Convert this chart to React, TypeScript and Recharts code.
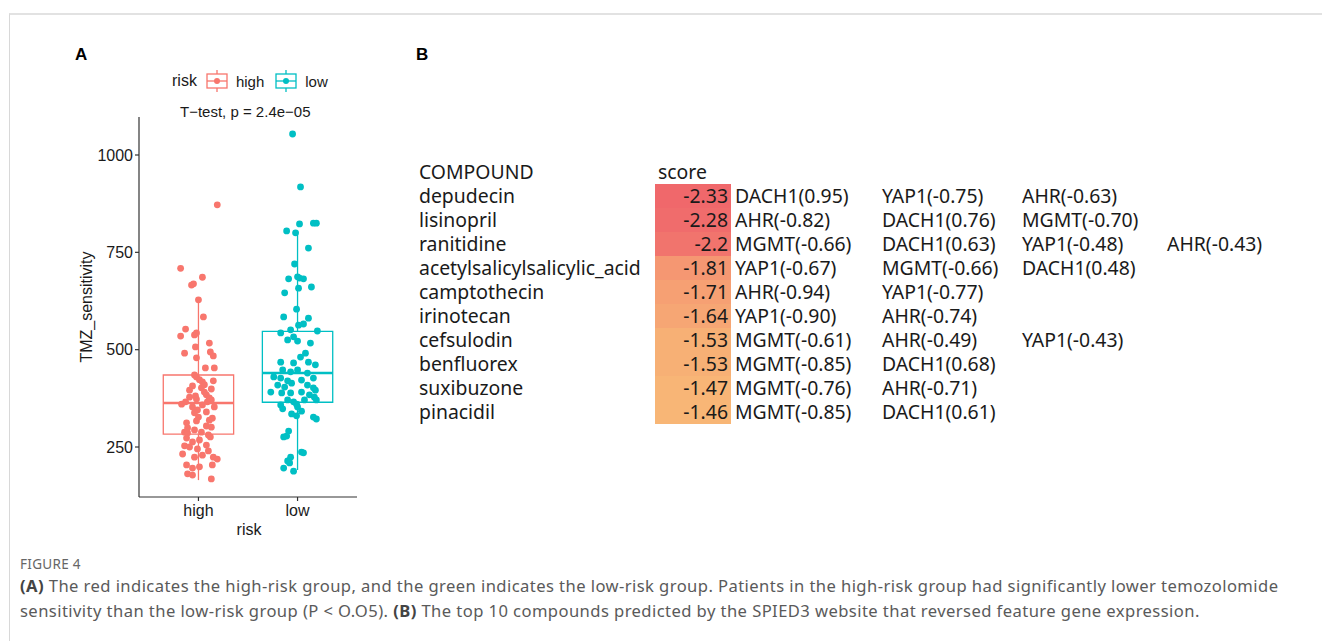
import React from "react";
import {
  ComposedChart,
  Scatter,
  XAxis,
  YAxis,
  ReferenceArea,
  ReferenceLine,
  BarChart,
  Bar,
  Cell,
  LabelList,
} from "recharts";

// ---- panel A: TMZ sensitivity by risk group ----
const riskGroups = ["high", "low"];
const groupColors = ["#F8766D", "#00BFC4"];
const yTicks = [250, 500, 750, 1000];

// box statistics, one entry per group
const whiskerLow = [165, 191];
const quart1 = [283, 365];
const medians = [363, 440];
const quart3 = [435, 547];
const whiskerHigh = [628, 804];

// jittered points (offset from group centre, value)
const highJitter = [
  0.19, -0.18, 0.04, -0.07, -0.05, 0, 0.05, -0.13, -0.18, -0.04, -0.02, 0.11,
  -0.03, -0.14, 0.12, 0.15, -0.02, 0.07, 0.16, -0.04, -0.02, 0.04, 0.15, -0.06,
  0.03, 0.13, 0.08, 0.13, -0.09, -0.02, 0.09, -0.17, -0.13, -0.06, 0.04, 0.16,
  0, 0.14, 0.08, -0.02, -0.12, 0.08, 0.13, -0.14, -0.11, -0.04, 0.03, 0.1,
  -0.12, -0.06, 0.01, 0.12, -0.14, -0.09, -0.01, 0.08, 0.1, -0.16, -0.04, 0.04,
  0.15, 0.19, -0.12, -0.06, 0.01, 0.14, -0.11, -0.06, 0.13, 0.01, -0.09, 0.06,
  -0.03, 0.11, -0.01, 0.11, -0.11, 0.06, -0.04,
];
const highValues = [
  872, 709, 686, 666, 669, 628, 584, 553, 535, 538, 543, 517, 507, 491, 494,
  484, 479, 453, 453, 435, 430, 417, 420, 407, 402, 399, 384, 371, 378, 373,
  366, 360, 366, 353, 358, 353, 327, 324, 340, 317, 312, 304, 301, 288, 286,
  294, 288, 281, 273, 263, 268, 276, 253, 250, 245, 255, 240, 232, 224, 229,
  224, 219, 204, 196, 199, 204, 181, 178, 168, 423, 396, 391, 381, 376, 345,
  319, 299, 410, 338,
];

const lowJitter = [
  -0.05, 0.03, 0.02, 0.16, 0.19, -0.11, -0.02, 0.11, -0.03, -0.09, 0, 0.02,
  0.06, 0.01, 0.14, -0.13, -0.01, -0.14, 0.11, 0.01, 0.06, -0.17, -0.07, -0.04,
  0.2, -0.1, 0, 0.13, 0.08, 0.03, -0.17, -0.04, 0.11, 0.18, -0.15, -0.07, 0,
  0.1, -0.24, -0.17, -0.1, 0.04, 0.16, -0.2, -0.13, -0.06, 0.1, 0.16, 0.18,
  -0.27, -0.16, -0.07, 0.04, 0.12, 0.17, -0.1, -0.04, 0.07, 0.19, -0.17, -0.01,
  0, 0.04, -0.15, -0.06, -0.01, 0.16, 0.19, -0.09, -0.11, -0.14, 0.04, 0.06,
  -0.07, -0.1, -0.08, -0.14, -0.04,
];
const lowValues = [
  1054, 918, 823, 825, 825, 805, 800, 761, 720, 682, 687, 684, 682, 658, 661,
  646, 604, 584, 581, 563, 566, 543, 551, 533, 548, 525, 522, 517, 491, 481,
  468, 466, 468, 461, 448, 443, 448, 440, 430, 427, 420, 422, 427, 409, 404,
  414, 409, 402, 396, 391, 389, 389, 391, 384, 378, 371, 366, 371, 371, 358,
  360, 353, 342, 348, 335, 330, 327, 322, 291, 278, 276, 237, 235, 224, 214,
  209, 196, 188,
];

// ---- panel B: SPIED3 compounds ----
const compounds = [
  "depudecin",
  "lisinopril",
  "ranitidine",
  "acetylsalicylsalicylic_acid",
  "camptothecin",
  "irinotecan",
  "cefsulodin",
  "benfluorex",
  "suxibuzone",
  "pinacidil",
];
const scores = [-2.33, -2.28, -2.2, -1.81, -1.71, -1.64, -1.53, -1.53, -1.47, -1.46];
const geneHits = [
  ["DACH1(0.95)", "YAP1(-0.75)", "AHR(-0.63)"],
  ["AHR(-0.82)", "DACH1(0.76)", "MGMT(-0.70)"],
  ["MGMT(-0.66)", "DACH1(0.63)", "YAP1(-0.48)", "AHR(-0.43)"],
  ["YAP1(-0.67)", "MGMT(-0.66)", "DACH1(0.48)"],
  ["AHR(-0.94)", "YAP1(-0.77)"],
  ["YAP1(-0.90)", "AHR(-0.74)"],
  ["MGMT(-0.61)", "AHR(-0.49)", "YAP1(-0.43)"],
  ["MGMT(-0.85)", "DACH1(0.68)"],
  ["MGMT(-0.76)", "AHR(-0.71)"],
  ["MGMT(-0.85)", "DACH1(0.61)"],
];

const highPoints = highValues.map((v, i) => ({ x: 1 + highJitter[i], y: v }));
const lowPoints = lowValues.map((v, i) => ({ x: 2 + lowJitter[i], y: v }));
const compoundRows = compounds.map((c, i) => ({ compound: c, score: scores[i], genes: geneHits[i] }));

const geneColX = [4, 151, 291, 436];

function scoreColor(s: number) {
  const lo = Math.min(...scores);
  const hi = Math.max(...scores);
  const t = (s - lo) / (hi - lo);
  const a = [240, 104, 107];
  const b = [248, 182, 118];
  const c = a.map((v, k) => Math.round(v + (b[k] - v) * t));
  return `rgb(${c[0]},${c[1]},${c[2]})`;
}

const axisFont = { fontFamily: "'Liberation Sans', Arial, sans-serif", fontSize: 16, fill: "#1a1a1a" };
const tableFont = "'Noto Sans', sans-serif";
const tableSize = 19.4;

function LegendIcon({ color }: { color: string }) {
  return (
    <svg width={24} height={22} style={{ display: "block" }}>
      <line x1={12} y1={0} x2={12} y2={22} stroke={color} strokeWidth={1.3} />
      <rect x={2} y={4} width={20} height={14} fill="#fff" stroke={color} strokeWidth={1.3} />
      <line x1={2} y1={11} x2={22} y2={11} stroke={color} strokeWidth={1.3} />
      <circle cx={12} cy={11} r={3} fill={color} />
    </svg>
  );
}

const abs = (left: number, top: number): React.CSSProperties => ({ position: "absolute", left, top });

export default function App() {
  return (
    <div
      style={{
        position: "absolute",
        left: 0,
        top: 0,
        width: 1322,
        height: 641,
        overflow: "hidden",
        background: "#fff",
      }}
    >
      {/* frame */}
      <div
        style={{
          position: "absolute",
          left: 9,
          top: 13,
          width: 1320,
          height: 640,
          borderTop: "2px solid #e2e2e2",
          borderLeft: "1px solid #d8d8d8",
        }}
      />

      {/* panel letters */}
      <div style={{ ...abs(75, 45), font: "bold 17px 'Liberation Sans', Arial, sans-serif" }}>A</div>
      <div style={{ ...abs(416, 45), font: "bold 17px 'Liberation Sans', Arial, sans-serif" }}>B</div>

      {/* legend A */}
      <div
        style={{
          ...abs(172, 70),
          display: "flex",
          alignItems: "center",
          font: "16px 'Liberation Sans', Arial, sans-serif",
          color: "#1a1a1a",
          height: 22,
        }}
      >
        <span style={{ marginRight: 8 }}>risk</span>
        <LegendIcon color={groupColors[0]} />
        <span style={{ marginLeft: 7, marginRight: 10, fontSize: 15 }}>high</span>
        <LegendIcon color={groupColors[1]} />
        <span style={{ marginLeft: 7, fontSize: 15 }}>low</span>
      </div>
      <div style={{ ...abs(180, 103), font: "15px 'Liberation Sans', Arial, sans-serif", color: "#1a1a1a" }}>
        T−test, p = 2.4e−05
      </div>

      {/* axis titles A */}
      <div
        style={{
          ...abs(87, 307),
          transform: "translate(-50%, -50%) rotate(-90deg)",
          font: "16px 'Liberation Sans', Arial, sans-serif",
          color: "#1a1a1a",
          whiteSpace: "nowrap",
        }}
      >
        TMZ_sensitivity
      </div>
      <div
        style={{
          ...abs(249, 530),
          transform: "translate(-50%, -50%)",
          font: "16px 'Liberation Sans', Arial, sans-serif",
          color: "#1a1a1a",
        }}
      >
        risk
      </div>

      <div style={abs(60, 100)}>
        <ComposedChart width={310} height={450} margin={{ top: 17, right: 13, bottom: 0, left: 0 }}>
          <XAxis
            type="number"
            dataKey="x"
            domain={[0.4, 2.6]}
            ticks={[1, 2]}
            tickFormatter={(v: number) => riskGroups[v - 1]}
            allowDataOverflow
            height={53}
            stroke="#333"
            strokeWidth={1.2}
            tickSize={4}
            tickMargin={4}
            tick={axisFont}
          />
          <YAxis
            type="number"
            dataKey="y"
            domain={[121.6, 1097.6]}
            ticks={yTicks}
            allowDataOverflow
            width={79}
            stroke="#333"
            strokeWidth={1.2}
            tickSize={4}
            tickMargin={2}
            tick={axisFont}
          />
          {riskGroups.map((g, i) => (
            <ReferenceArea
              key={"box" + g}
              x1={i + 1 - 0.355}
              x2={i + 1 + 0.355}
              y1={quart1[i]}
              y2={quart3[i]}
              fill="none"
              fillOpacity={0}
              stroke={groupColors[i]}
              strokeWidth={1.3}
            />
          ))}
          {riskGroups.map((g, i) => (
            <ReferenceLine
              key={"med" + g}
              segment={[
                { x: i + 1 - 0.355, y: medians[i] },
                { x: i + 1 + 0.355, y: medians[i] },
              ]}
              stroke={groupColors[i]}
              strokeWidth={2.4}
            />
          ))}
          {riskGroups.map((g, i) => (
            <ReferenceLine
              key={"wu" + g}
              segment={[
                { x: i + 1, y: quart3[i] },
                { x: i + 1, y: whiskerHigh[i] },
              ]}
              stroke={groupColors[i]}
              strokeWidth={1.3}
            />
          ))}
          {riskGroups.map((g, i) => (
            <ReferenceLine
              key={"wl" + g}
              segment={[
                { x: i + 1, y: whiskerLow[i] },
                { x: i + 1, y: quart1[i] },
              ]}
              stroke={groupColors[i]}
              strokeWidth={1.3}
            />
          ))}
          <Scatter
            data={highPoints}
            isAnimationActive={false}
            shape={(p: any) => <circle cx={p.cx} cy={p.cy} r={3.4} fill={groupColors[0]} />}
          />
          <Scatter
            data={lowPoints}
            isAnimationActive={false}
            shape={(p: any) => <circle cx={p.cx} cy={p.cy} r={3.4} fill={groupColors[1]} />}
          />
        </ComposedChart>
      </div>

      {/* panel B headers */}
      <div style={{ ...abs(419, 159), font: `${tableSize}px ${tableFont}`, color: "#1a1a1a", lineHeight: "26px" }}>
        COMPOUND
      </div>
      <div style={{ ...abs(658, 159), font: `${tableSize}px ${tableFont}`, color: "#1a1a1a", lineHeight: "26px" }}>
        score
      </div>

      <div style={abs(400, 150)}>
        <BarChart
          layout="vertical"
          width={900}
          height={290}
          data={compoundRows}
          margin={{ top: 34, right: 569, bottom: 16, left: 0 }}
          barCategoryGap={0}
        >
          <XAxis type="number" domain={[0, 1]} hide />
          <YAxis
            type="category"
            dataKey="compound"
            width={255}
            axisLine={false}
            tickLine={false}
            tick={(p: any) => (
              <text
                x={19}
                y={p.y}
                dy="0.36em"
                textAnchor="start"
                fontFamily={tableFont}
                fontSize={tableSize}
                fill="#1a1a1a"
              >
                {p.payload.value}
              </text>
            )}
          />
          <Bar dataKey={() => 1} isAnimationActive={false}>
            {compoundRows.map((r) => (
              <Cell key={r.compound} fill={scoreColor(r.score)} />
            ))}
            <LabelList
              dataKey="score"
              content={(p: any) => (
                <text
                  x={p.x + p.width - 3}
                  y={p.y + p.height / 2}
                  dy="0.36em"
                  textAnchor="end"
                  fontFamily={tableFont}
                  fontSize={tableSize}
                  fill="#1a1a1a"
                >
                  {p.value}
                </text>
              )}
            />
            <LabelList
              dataKey="genes"
              content={(p: any) => (
                <g>
                  {(p.value as string[]).map((gname, k) => (
                    <text
                      key={gname}
                      x={p.x + p.width + geneColX[k]}
                      y={p.y + p.height / 2}
                      dy="0.36em"
                      textAnchor="start"
                      fontFamily={tableFont}
                      fontSize={tableSize}
                      fill="#1a1a1a"
                    >
                      {gname}
                    </text>
                  ))}
                </g>
              )}
            />
          </Bar>
        </BarChart>
      </div>

      {/* caption */}
      <div
        style={{
          ...abs(20, 555),
          font: "13.5px 'Noto Sans', sans-serif",
          color: "#666",
          letterSpacing: 0.3,
        }}
      >
        FIGURE 4
      </div>
      <div
        style={{
          ...abs(20, 573),
          font: "16.6px 'Noto Sans', sans-serif",
          color: "#5a5a5a",
          lineHeight: "25px",
          letterSpacing: 0.42,
          whiteSpace: "nowrap",
        }}
      >
        <b style={{ color: "#444" }}>(A)</b> The red indicates the high-risk group, and the green indicates the low-risk
        group. Patients in the high-risk group had significantly lower temozolomide
        <br />
        sensitivity than the low-risk group (P &lt; O.O5). <b style={{ color: "#444" }}>(B)</b> The top 10 compounds
        predicted by the SPIED3 website that reversed feature gene expression.
      </div>
    </div>
  );
}
